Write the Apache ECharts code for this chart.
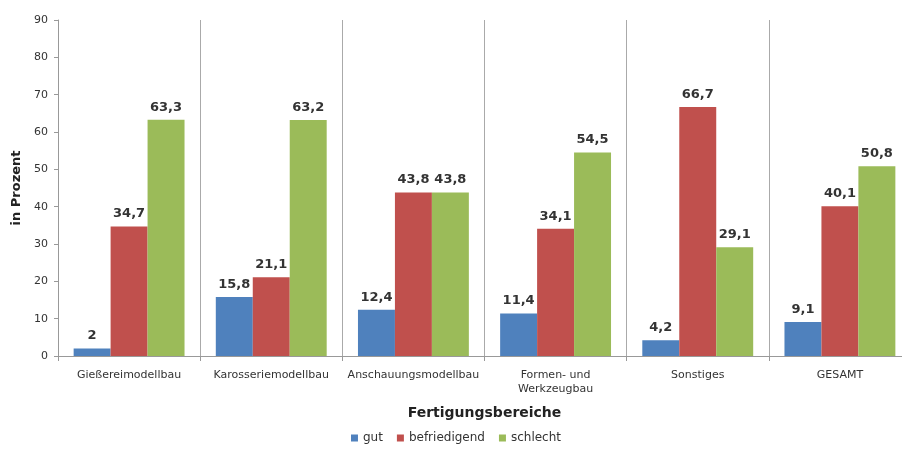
<!DOCTYPE html>
<html>
<head>
<meta charset="utf-8">
<script src="https://cdn.jsdelivr.net/npm/echarts@6/dist/echarts.min.js"></script>
<style>
  html, body { margin: 0; padding: 0; background: #fff; overflow: hidden; }
  #chart { width: 912px; height: 453px; }
</style>
</head>
<body>
<div id="chart"></div>
<script>
// Werte
var categories = ['Gießereimodellbau', 'Karosseriemodellbau', 'Anschauungsmodellbau', 'Formen- und\nWerkzeugbau', 'Sonstiges', 'GESAMT'];
var gut = [2, 15.8, 12.4, 11.4, 4.2, 9.1];
var befriedigend = [34.7, 21.1, 43.8, 34.1, 66.7, 40.1];
var schlecht = [63.3, 63.2, 43.8, 54.5, 29.1, 50.8];
var yTicks = { min: 0, max: 90, interval: 10 };

var fontFam = '"DejaVu Sans", Verdana, sans-serif';

function mkSeries(name, data, color) {
    return {
        name: name,
        type: 'bar',
        data: data,
        barGap: '0%',
        barCategoryGap: '22%',
        itemStyle: { color: color },
        label: {
            show: true,
            position: 'top',
            distance: 6,
            color: '#333',
            fontFamily: fontFam,
            fontSize: 13,
            fontWeight: 'bold',
            formatter: function(p) {
                return String(p.value).replace('.', ',');
            }
        }
    };
}

// Zeichenfläche ist 10px breiter als das Fenster, die letzte Trennlinie liegt ausserhalb
var chart = echarts.init(document.getElementById('chart'));
chart.setOption({
    animation: false,
    backgroundColor: '#fff',
    grid: { left: 58, top: 20, bottom: 97, right: 1 },
    legend: {
        bottom: 4,
        left: 'center',
        itemWidth: 7,
        itemHeight: 7,
        itemGap: 14,
        icon: 'rect',
        textStyle: { fontFamily: fontFam, fontSize: 12, color: '#333' },
        data: ['gut', 'befriedigend', 'schlecht']
    },
    xAxis: {
        type: 'category',
        data: categories,
        name: 'Fertigungsbereiche',
        nameLocation: 'middle',
        nameGap: 50,
        nameTextStyle: { fontFamily: fontFam, fontSize: 14, fontWeight: 'bold', color: '#222' },
        axisLine: { lineStyle: { color: '#999' } },
        axisTick: { show: true, length: 5, lineStyle: { color: '#999' } },
        splitLine: { show: true, lineStyle: { color: '#aaa', width: 1 } },
        axisLabel: { fontFamily: fontFam, fontSize: 11, color: '#333', margin: 12, interval: 0, lineHeight: 14 }
    },
    yAxis: {
        type: 'value',
        min: yTicks.min,
        max: yTicks.max,
        interval: yTicks.interval,
        name: 'in Prozent',
        nameLocation: 'middle',
        nameGap: 33,
        nameTextStyle: { fontFamily: fontFam, fontSize: 13, fontWeight: 'bold', color: '#222' },
        axisLine: { show: true, lineStyle: { color: '#999' } },
        axisTick: { show: true, length: 4, lineStyle: { color: '#999' } },
        splitLine: { show: false },
        axisLabel: { fontFamily: fontFam, fontSize: 11, color: '#333', margin: 10 }
    },
    series: [
        mkSeries('gut', gut, '#4F81BD'),
        mkSeries('befriedigend', befriedigend, '#C0504D'),
        mkSeries('schlecht', schlecht, '#9BBB59')
    ]
});
</script>
</body>
</html>
